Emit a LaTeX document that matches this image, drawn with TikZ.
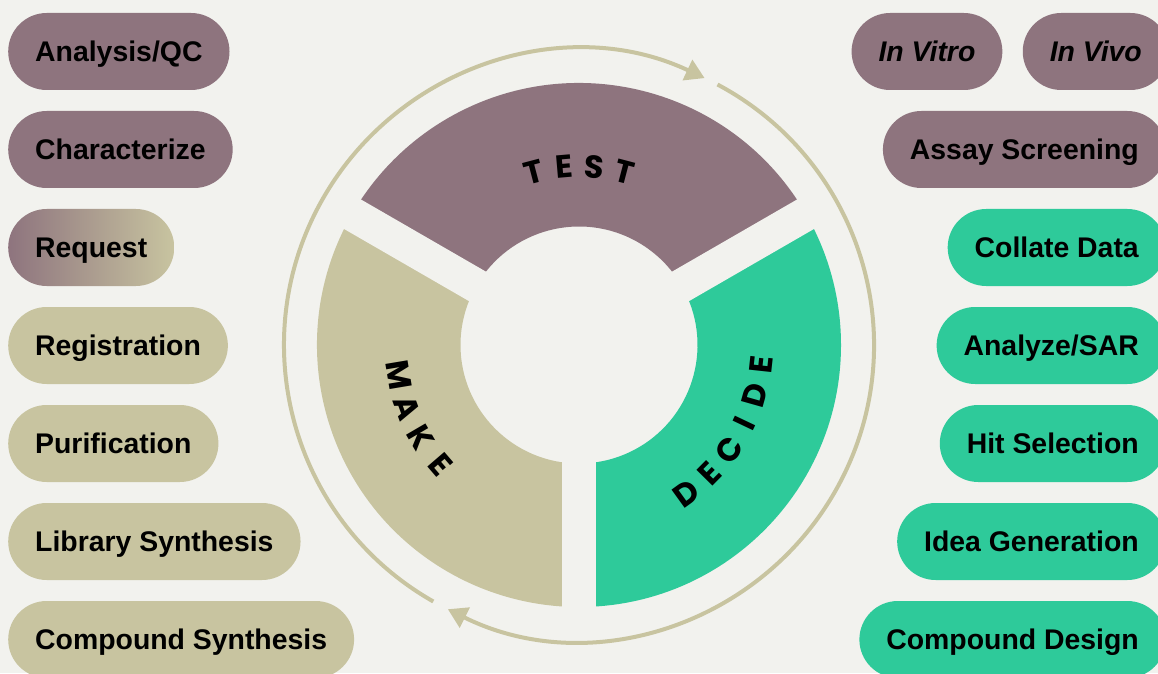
\documentclass[tikz,border=0pt]{standalone}
\usepackage{fontspec}
\setmainfont{Liberation Sans}
\newfontfamily\cyclefont{Poppins}
\usetikzlibrary{positioning,arrows.meta}
\definecolor{mauve}{HTML}{8E747E}
\definecolor{khaki}{HTML}{C8C4A0}
\definecolor{mint}{HTML}{2ECA9A}
\definecolor{paper}{HTML}{F2F2EE}
\newcommand\pillfont{\fontsize{28.4}{30}\selectfont\bfseries}

\begin{document}
\begin{tikzpicture}
  [x=1pt,y=1pt,
   pill/.style={rounded corners=38.5pt, minimum height=77pt, inner xsep=27pt, text height=20.4pt, text depth=0pt, font=\pillfont, text=black},
   lpill/.style={pill, anchor=west},
   rpill/.style={pill, anchor=east},
   ipill/.style={rpill, font=\pillfont\itshape},
   letter/.style={font=\fontsize{32}{34}\selectfont\cyclefont\bfseries, inner sep=0pt, text=black},
   ring/.style={khaki, line width=4pt, -{Triangle[width=22pt,length=19pt]}}]
  \useasboundingbox (0,0) rectangle (1158,673);
  \fill[paper] (0,0) rectangle (1158,673);
  \clip (0,0) rectangle (1158,673);
  \coordinate (c) at (579,328);

  % wheel
  \fill[mauve] (c) ++(30:262) arc[start angle=30, end angle=150, radius=262] -- ++(330:143.5) arc[start angle=150, end angle=30, radius=118.5] -- cycle;
  \fill[khaki] (c) ++(150:262) arc[start angle=150, end angle=270, radius=262] -- ++(90:143.5) arc[start angle=270, end angle=150, radius=118.5] -- cycle;
  \fill[mint] (c) ++(270:262) arc[start angle=270, end angle=390, radius=262] -- ++(210:143.5) arc[start angle=390, end angle=270, radius=118.5] -- cycle;
  \foreach \a in {30,150,270}
    \draw[paper, line width=34pt] (c) -- ++(\a:280);

  \foreach \ch [count=\i] in {T,E,S,T}
    \node[letter, rotate=24.5-9.8*\i] (test\i) at ([shift={(114.5-9.8*\i:179)}]c) {\ch};
  \foreach \ch [count=\i] in {M,A,K,E}
    \node[letter, rotate=269.1+10.4*\i] (make\i) at ([shift={(179.1+10.4*\i:183)}]c) {\ch};
  \foreach \ch [count=\i] in {D,E,C,I,D,E}
    \node[letter, rotate=386.2+9.6*\i] (decide\i) at ([shift={(296.2+9.6*\i:183)}]c) {\ch};

  % outer ring
  \draw[ring] (c) ++(62:295) arc[start angle=62, end angle=-116.4, radius=295];
  \draw[ring] (c) ++(240.4:295) arc[start angle=240.4, end angle=64.8, radius=295];

  % left column
  \node[lpill, fill=mauve] (qc) at (8,621.5) {Analysis/QC};
  \node[lpill, fill=mauve] (char) at (8,523.5) {Characterize};
  \node[lpill, left color=mauve, right color=khaki] (req) at (8,425.5) {Request};
  \node[lpill, fill=khaki] (reg) at (8,327.5) {Registration};
  \node[lpill, fill=khaki] (pur) at (8,229.5) {Purification};
  \node[lpill, fill=khaki] (lib) at (8,131.5) {Library Synthesis};
  \node[lpill, fill=khaki] (csyn) at (8,33.5) {Compound Synthesis};

  % right column
  \node[ipill, fill=mauve] (vivo) at (1169,621.5) {In Vivo};
  \node[ipill, fill=mauve, left=20pt of vivo] (vitro) {In Vitro};
  \node[rpill, fill=mauve] (assay) at (1166,523.5) {Assay Screening};
  \node[rpill, fill=mint] (coll) at (1166,425.5) {Collate Data};
  \node[rpill, fill=mint] (sar) at (1166,327.5) {Analyze/SAR};
  \node[rpill, fill=mint] (hit) at (1166,229.5) {Hit Selection};
  \node[rpill, fill=mint] (idea) at (1166,131.5) {Idea Generation};
  \node[rpill, fill=mint] (cdes) at (1166,33.5) {Compound Design};
\end{tikzpicture}
\end{document}
